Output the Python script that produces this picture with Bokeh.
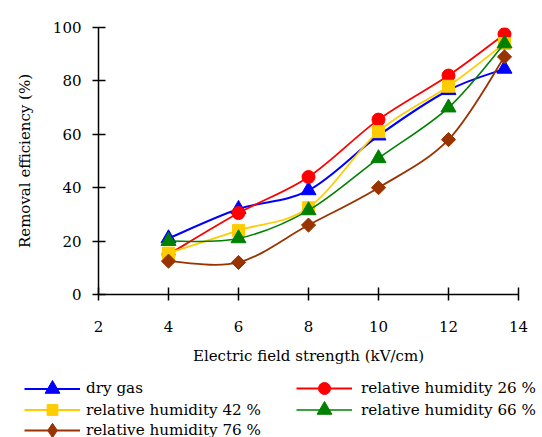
import math
from bokeh.plotting import figure
from bokeh.layouts import column
from bokeh.models import Legend, LegendItem, FixedTicker, Range1d
from bokeh.embed import file_html
from bokeh.resources import INLINE

# ---- data ----
field = [4, 6, 8, 10, 12, 13.6]
dry_gas = [21, 32, 39, 59.5, 76.5, 84.5]
rh26 = [15, 30.5, 44, 65.5, 82, 97.5]
rh42 = [15.5, 24, 32.5, 61, 78, 94]
rh66 = [20, 21, 31.5, 51, 70, 94]
rh76 = [12.5, 12, 26, 40, 58, 89]

x_ticks = [2, 4, 6, 8, 10, 12, 14]
y_ticks = [0, 20, 40, 60, 80, 100]

labels = ["dry gas", "relative humidity 26 %", "relative humidity 42 %",
          "relative humidity 66 %", "relative humidity 76 %"]

FONT = "DejaVu Serif"

p = figure(frame_width=420, frame_height=267,
           x_range=Range1d(2, 14), y_range=Range1d(0, 100),
           output_backend="svg", toolbar_location=None,
           min_border_left=98, min_border_right=24, min_border_top=27,
           min_border_bottom=82)
p.outline_line_color = None
p.xgrid.visible = False
p.ygrid.visible = False

for ax in (p.xaxis[0], p.yaxis[0]):
    ax.axis_line_width = 1.5
    ax.axis_line_color = "black"
    ax.major_tick_line_width = 1.5
    ax.major_tick_line_color = "black"
    ax.major_tick_in = 7
    ax.major_tick_out = 6
    ax.minor_tick_line_color = None
    ax.major_label_text_font = FONT
    ax.major_label_text_font_size = "15px"
    ax.major_label_text_color = "black"
    ax.axis_label_text_font = FONT
    ax.axis_label_text_font_size = "15px"
    ax.axis_label_text_font_style = "normal"
    ax.axis_label_text_color = "black"

p.xaxis.ticker = FixedTicker(ticks=x_ticks)
p.yaxis.ticker = FixedTicker(ticks=y_ticks)
p.xaxis.axis_label = "Electric field strength (kV/cm)"
p.yaxis.axis_label = "Removal efficiency (%)"
p.xaxis.major_label_standoff = 20
p.yaxis.major_label_standoff = 11
p.xaxis.axis_label_standoff = 12
p.yaxis.axis_label_standoff = 16


def smooth_segments(xs, ys):
    """Bezier control points (Catmull-Rom style, like a spreadsheet smoothed line)."""
    n = len(xs)
    out = dict(x0=[], y0=[], x1=[], y1=[], cx0=[], cy0=[], cx1=[], cy1=[])
    for i in range(n - 1):
        xm, ym = (xs[i - 1], ys[i - 1]) if i > 0 else (xs[i], ys[i])
        xp, yp = (xs[i + 2], ys[i + 2]) if i + 2 < n else (xs[i + 1], ys[i + 1])
        out["x0"].append(xs[i]); out["y0"].append(ys[i])
        out["x1"].append(xs[i + 1]); out["y1"].append(ys[i + 1])
        out["cx0"].append(xs[i] + (xs[i + 1] - xm) / 6)
        out["cy0"].append(ys[i] + (ys[i + 1] - ym) / 6)
        out["cx1"].append(xs[i + 1] - (xp - xs[i]) / 6)
        out["cy1"].append(ys[i + 1] - (yp - ys[i]) / 6)
    return out


series = [dry_gas, rh26, rh42, rh66, rh76]
colors = ["#0000FF", "#FF0000", "#FFCC00", "#008000", "#993300"]
widths = [2, 1.8, 1.8, 1.6, 1.8]
markers = ["triangle", "circle", "square", "triangle", "square"]
sizes = [15, 13, 12, 15, 10]
angles = [0, 0, 0, 0, math.pi / 4]

for ys, c, w, m, s, a in zip(series, colors, widths, markers, sizes, angles):
    seg = smooth_segments(field, ys)
    p.bezier(line_color=c, line_width=w, **seg)
    p.scatter(field, ys, marker=m, size=s, angle=a,
              fill_color=c, line_color=c, line_width=1)

# ---- legend strip below the chart ----
LH = 61
lp = figure(frame_width=542, frame_height=LH, x_range=Range1d(0, 1),
            y_range=Range1d(0, 1), output_backend="svg", toolbar_location=None,
            x_axis_location=None, y_axis_location=None, min_border=0)
lp.outline_line_color = None
lp.xgrid.visible = False
lp.ygrid.visible = False

legend_markers = ["triangle", "circle", "square", "triangle", "diamond"]
glyph_heights = [37, 30, 27, 37, 36]
# (column x, standoff, row center from strip top)
slots = [(24, 6, 12), (296, 9, 12), (24, 6, 33.7), (296, 9, 33.7), (24, 6, 53.7)]

for c, w, m, gh, lab, (lx, so, cy) in zip(colors, widths, legend_markers,
                                         glyph_heights, labels, slots):
    lr = lp.line([-2, -1], [-2, -1], line_color=c, line_width=w)
    sr = lp.scatter([-2], [-2], marker=m, size=10, fill_color=c, line_color=c,
                    line_width=1)
    leg = Legend(items=[LegendItem(label=lab, renderers=[lr, sr])],
                 location=(lx, LH - (cy + gh / 2)), orientation="vertical",
                 margin=0, padding=0, border_line_color=None,
                 background_fill_alpha=0, glyph_width=56, glyph_height=gh,
                 label_height=gh, label_standoff=so, spacing=0,
                 label_text_font=FONT, label_text_font_size="15.2px",
                 label_text_color="black")
    lp.add_layout(leg, "center")

layout = column(p, lp, spacing=0)
open("out.html", "w").write(file_html(layout, INLINE))
